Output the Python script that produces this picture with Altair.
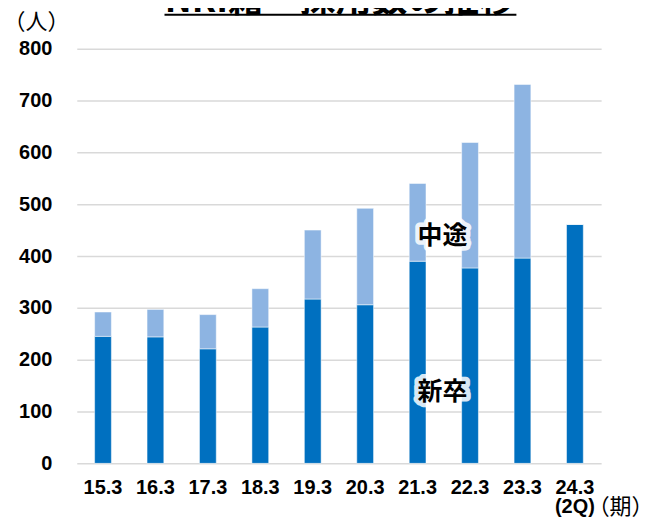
import altair as alt
import pandas as pd

# ---- data ----
periods = ["15.3", "16.3", "17.3", "18.3", "19.3", "20.3", "21.3", "22.3", "23.3", "24.3"]
new_grad = [245, 244, 221, 263, 317, 306, 390, 377, 396, 461]      # 新卒
mid_career = [47, 53, 66, 74, 133, 186, 150, 242, 335, 0]          # 中途
series = ["新卒", "中途"]
colors = ["#0070C0", "#8DB4E2"]
y_ticks = [0, 100, 200, 300, 400, 500, 600, 700, 800]
title_text = "NRI籍　採用数の推移"
ann_labels = ["中途", "新卒"]
ann_values = [438, 137]
ann_period = "21.3"

rows = []
for p, n, m in zip(periods, new_grad, mid_career):
    rows.append({"period": p, "type": series[0], "value": n, "ord": 0})
    rows.append({"period": p, "type": series[1], "value": m, "ord": 1})
df = pd.DataFrame(rows)

ann_df = pd.DataFrame({"period": [ann_period] * 2, "value": ann_values, "label": ann_labels})

W, H = 526, 416
LABEL_FONT = "Liberation Sans"
JP_FONT = "Noto Sans CJK JP"

x_enc = alt.X(
    "period:N",
    sort=periods,
    scale=alt.Scale(paddingInner=0.68, paddingOuter=0.34),
    axis=alt.Axis(
        title="（期）", titleX=545, titleY=43, titleAngle=0, titleAlign="center",
        titleBaseline="middle", titleFont=JP_FONT, titleFontSize=22,
        titleFontWeight="normal", titleColor="black",
        labelAngle=0, labelFont=LABEL_FONT, labelFontSize=20, labelFontWeight="bold",
        labelColor="black", labelPadding=14, ticks=False, domain=False,
        labelExpr="datum.value == '24.3' ? ['24.3', '(2Q)'] : datum.label",
        labelLineHeight=19,
    ),
)
y_enc = alt.Y(
    "value:Q",
    stack="zero",
    scale=alt.Scale(domain=[0, 800]),
    axis=alt.Axis(
        values=y_ticks, title="（人）", titleX=-41, titleY=-27, titleAngle=0,
        titleAlign="center", titleBaseline="middle", titleFont=JP_FONT,
        titleFontSize=22, titleFontWeight="normal", titleColor="black",
        labelFont=LABEL_FONT, labelFontSize=20, labelFontWeight="bold",
        labelColor="black", labelPadding=25, ticks=False, domain=False,
        gridColor="#d9d9d9", gridWidth=1.5,
    ),
)

bars = alt.Chart(df).mark_bar(stroke="#ffffff", strokeOpacity=0.5, strokeWidth=1).encode(
    x=x_enc,
    y=y_enc,
    color=alt.Color("type:N", scale=alt.Scale(domain=series, range=colors), legend=None),
    order=alt.Order("ord:Q"),
)

halo = alt.Chart(ann_df).mark_text(
    font=JP_FONT, fontSize=25, fontWeight="bold", dx=25, baseline="middle",
    fill="white", stroke="white", strokeWidth=9, strokeJoin="round", strokeOpacity=0.85,
).encode(x=alt.X("period:N", sort=periods), y="value:Q", text="label:N")

ann = alt.Chart(ann_df).mark_text(
    font=JP_FONT, fontSize=25, fontWeight="bold", dx=25, baseline="middle", color="black",
).encode(x=alt.X("period:N", sort=periods), y="value:Q", text="label:N")

title_df = pd.DataFrame({"t": [title_text]})
title = alt.Chart(title_df).mark_text(
    font=JP_FONT, fontSize=36, fontWeight="bold", align="center", baseline="alphabetic",
    color="black",
).encode(x=alt.value(264), y=alt.value(-37), text="t:N")

underline = alt.Chart(title_df).mark_rule(color="black", strokeWidth=2).encode(
    x=alt.value(88), x2=alt.value(441), y=alt.value(-34)
)

chart = alt.layer(bars, halo, ann, title, underline).properties(
    width=W,
    height=H,
    autosize=alt.AutoSizeParams(type="none"),
    padding={"left": 69, "top": 40, "right": 40, "bottom": 53},
).configure_view(stroke=None)

chart.save("out.html", embed_options={"renderer": "svg", "actions": False})
